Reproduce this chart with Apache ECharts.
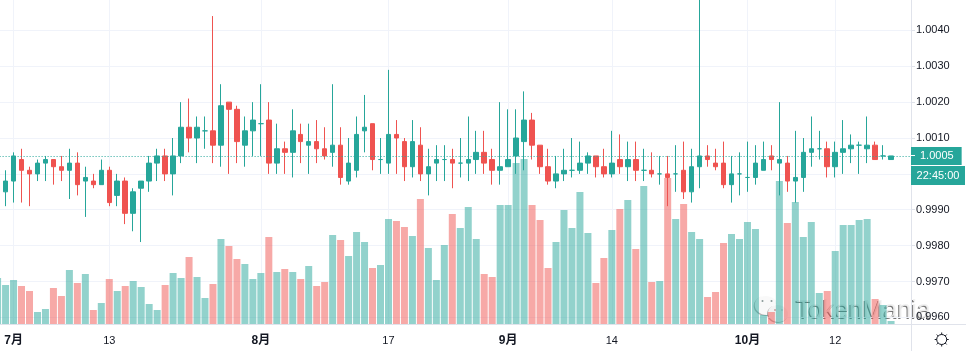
<!DOCTYPE html>
<html>
<head>
<meta charset="utf-8" />
<title>TokenMania</title>
<script src="https://cdn.jsdelivr.net/npm/echarts@6/dist/echarts.min.js"></script>
<style>html,body{margin:0;padding:0;background:#fff}</style>
</head>
<body>
<div id="main" style="width:966px;height:351px;"></div>
<script type="text/javascript">
// first slot only has a volume bar, its candle is off the left edge
var openPrices = [null,
 0.9995,0.9998,1.0004,1.0001,1.0000,1.0003,1.0004,1.0002,1.0001,1.0003,0.9998,0.9998,0.9997,1.0001,0.9994,0.9998,
 0.9989,0.9996,0.9998,1.0003,1.0005,1.0000,1.0005,1.0013,1.0010,1.0012,1.0012,1.0008,1.0020,1.0018,1.0008,1.0012,
 1.0014,1.0015,1.0003,1.0007,1.0006,1.0011,1.0008,1.0009,1.0007,1.0006,1.0008,0.9998,1.0001,1.0012,1.0014,1.0004,
 1.0003,1.0011,1.0009,1.0002,1.0008,1.0000,1.0003,1.0004,1.0004,1.0003,1.0003,1.0004,1.0006,1.0004,1.0001,1.0002,
 1.0005,1.0009,1.0015,1.0008,1.0002,0.9998,1.0000,1.0001,1.0001,1.0003,1.0005,1.0002,1.0000,1.0004,1.0002,1.0004,
 1.0001,1.0001,1.0000,1.0000,1.0000,1.0001,0.9995,1.0002,1.0005,1.0003,1.0003,0.9997,1.0000,0.9999,0.9999,1.0001,
 1.0005,1.0003,1.0003,0.9998,0.9999,1.0006,1.0007,1.0007,1.0002,1.0006,1.0007,1.0008,1.0007,1.0008,1.0005,1.0004];
var closePrices = [null,
 0.9998,1.0005,1.0001,1.0000,1.0003,1.0004,1.0002,1.0001,1.0003,0.9997,0.9999,0.9997,1.0001,0.9992,0.9998,0.9989,
 0.9995,0.9998,1.0003,1.0005,1.0000,1.0005,1.0013,1.0010,1.0013,1.0012,1.0008,1.0019,1.0018,1.0009,1.0012,1.0015,
 1.0014,1.0003,1.0007,1.0006,1.0012,1.0009,1.0009,1.0007,1.0005,1.0008,0.9999,1.0003,1.0011,1.0013,1.0004,1.0004,
 1.0011,1.0010,1.0002,1.0009,1.0000,1.0002,1.0004,1.0004,1.0003,1.0003,1.0004,1.0006,1.0003,1.0001,1.0002,1.0004,
 1.0010,1.0015,1.0008,1.0002,0.9998,1.0000,1.0001,1.0001,1.0003,1.0005,1.0002,1.0000,1.0003,1.0002,1.0004,1.0001,
 1.0001,1.0000,1.0000,0.9999,1.0000,0.9995,1.0002,1.0005,1.0004,1.0002,0.9997,1.0000,1.0000,0.9999,1.0003,1.0004,
 1.0004,1.0004,0.9998,0.9999,1.0006,1.0007,1.0007,1.0002,1.0006,1.0007,1.0008,1.0008,1.0008,1.0004,1.0005,1.0005];
var lowPrices = [null,
 0.9991,0.9992,0.9992,0.9991,0.9998,0.9998,0.9997,0.9998,0.9993,0.9994,0.9988,0.9996,0.9997,0.9991,0.9991,0.9986,
 0.9984,0.9981,0.9995,0.9998,0.9998,0.9994,1.0003,1.0006,1.0003,1.0007,1.0003,1.0002,1.0000,1.0003,1.0002,1.0005,
 1.0005,1.0000,1.0000,1.0000,0.9999,1.0003,1.0000,1.0003,1.0004,1.0002,0.9997,0.9997,0.9999,1.0006,1.0001,1.0000,
 1.0000,1.0000,0.9998,0.9999,0.9998,0.9994,0.9998,0.9998,0.9996,0.9999,0.9998,1.0000,1.0000,0.9997,0.9997,1.0002,
 1.0000,1.0001,1.0004,1.0000,0.9997,0.9996,0.9998,0.9999,1.0000,1.0000,0.9999,0.9999,0.9999,1.0000,0.9998,0.9998,
 0.9998,0.9999,0.9997,0.9991,0.9995,0.9993,0.9992,0.9996,1.0002,1.0001,0.9996,0.9992,0.9994,0.9995,0.9997,1.0001,
 1.0001,0.9994,0.9995,0.9992,0.9995,1.0002,1.0004,0.9999,0.9999,1.0000,1.0003,1.0000,1.0003,1.0004,1.0004,1.0004];
var highPrices = [null,
 1.0001,1.0006,1.0007,1.0002,1.0004,1.0005,1.0004,1.0005,1.0007,1.0006,1.0002,1.0000,1.0004,1.0002,1.0000,0.9999,
 0.9996,0.9998,1.0005,1.0007,1.0007,1.0010,1.0020,1.0021,1.0016,1.0016,1.0044,1.0025,1.0020,1.0019,1.0016,1.0020,
 1.0025,1.0020,1.0014,1.0009,1.0018,1.0014,1.0014,1.0015,1.0013,1.0025,1.0013,1.0010,1.0016,1.0022,1.0014,1.0010,
 1.0029,1.0015,1.0010,1.0015,1.0013,1.0007,1.0008,1.0008,1.0007,1.0010,1.0016,1.0012,1.0012,1.0007,1.0020,1.0018,
 1.0018,1.0023,1.0017,1.0008,1.0007,1.0005,1.0007,1.0010,1.0009,1.0006,1.0005,1.0007,1.0012,1.0011,1.0009,1.0009,
 1.0007,1.0006,1.0005,1.0005,1.0008,1.0009,1.0007,1.0050,1.0008,1.0007,1.0009,1.0005,1.0006,1.0009,1.0008,1.0009,
 1.0008,1.0020,1.0005,1.0012,1.0010,1.0016,1.0012,1.0009,1.0009,1.0015,1.0011,1.0009,1.0016,1.0009,1.0008,1.0005];
// volume read as bar height, no scale on the picture
var volumes = [138,117,132,114,99,36,45,108,84,162,123,150,42,63,135,99,114,129,111,60,42,117,153,138,201,141,78,120,
 255,234,195,180,135,153,261,156,165,156,135,174,114,126,267,252,204,276,246,168,177,315,309,291,264,375,228,132,237,
 330,288,351,255,150,141,357,357,483,495,357,312,168,246,342,288,396,273,123,198,282,345,372,225,414,126,129,438,315,
 360,276,255,81,96,243,270,255,306,285,27,36,429,303,366,261,306,93,99,219,297,297,312,315,75,57,9];
var lastPrice = 1.0005;
var countdown = '22:45:00';
var tickLabels = {'2020-07-01':'7月','2020-07-13':'13','2020-08-01':'8月','2020-08-17':'17',
 '2020-09-01':'9月','2020-09-14':'14','2020-10-01':'10月','2020-10-12':'12'};

var categories = [];
for (var n = 0; n < 115; n++) {
	categories.push(new Date(Date.UTC(2020, 5, 29 + n)).toISOString().slice(0, 10));
}

var UP = '#26a69a', DOWN = '#ef5350', GRID = '#f0f3fa', AXIS = '#e0e3eb', TEXT = '#131722';
var FONT = '"Liberation Sans", "Noto Sans CJK SC", sans-serif';

var candles = openPrices.map(function (o, i) {
	return [o, closePrices[i], lowPrices[i], highPrices[i]];
});
var volumeBars = volumes.map(function (v, i) {
	var up = closePrices[i] >= openPrices[i];
	return {value: v, itemStyle: {color: up ? 'rgba(38,166,154,0.5)' : 'rgba(239,83,80,0.5)'}};
});
function isLabelled(i, name) { return tickLabels[name] !== undefined; }

var plotLeft = -6.4, plotWidth = 917.4;

// gear icon spokes
var gearParts = [{type:'circle', shape:{cx:941.7, cy:339.5, r:5}, style:{fill:'#fff', stroke:TEXT, lineWidth:1}, silent:true}];
for (var a = 0; a < 8; a++) {
	var ang = a * Math.PI / 4;
	gearParts.push({type:'line', silent:true, style:{stroke:TEXT, lineWidth:1},
		shape:{x1:941.7+5*Math.cos(ang), y1:339.5+5*Math.sin(ang), x2:941.7+7*Math.cos(ang), y2:339.5+7*Math.sin(ang)}});
}

var myChart = echarts.init(document.getElementById('main'));
myChart.setOption({
	animation: false,
	backgroundColor: '#fff',
	grid: [
		{left: plotLeft, width: plotWidth, top: -5.47, height: 358.7, outerBoundsMode: 'none'},
		{left: plotLeft, width: plotWidth, top: 0, height: 324, outerBoundsMode: 'none'}
	],
	xAxis: [
		{type:'category', gridIndex:0, data:categories, show:false},
		{type:'category', gridIndex:1, data:categories,
			axisLine:{lineStyle:{color:AXIS}},
			axisTick:{interval:isLabelled, alignWithLabel:true, length:4, lineStyle:{color:AXIS}},
			splitLine:{show:true, interval:isLabelled, alignWithLabel:true, lineStyle:{color:GRID}},
			axisLabel:{interval:isLabelled, margin:11, hideOverlap:false,
				formatter:function (name) {
					var t = tickLabels[name];
					return t.indexOf('月') > 0 ? '{m|' + t + '}' : '{d|' + t + '}';
				},
				rich:{
					m:{fontFamily:FONT, fontSize:12, fontWeight:'bold', color:TEXT},
					d:{fontFamily:FONT, fontSize:11, color:TEXT}
				}
			}
		}
	],
	yAxis: [
		{type:'value', gridIndex:0, position:'right', min:0.995, max:1.005, interval:0.001, scale:true,
			axisLine:{show:true, lineStyle:{color:AXIS}},
			axisTick:{show:true, length:4, lineStyle:{color:AXIS}},
			splitLine:{show:true, lineStyle:{color:GRID}},
			axisLabel:{margin:5, color:TEXT, fontFamily:FONT, fontSize:11, showMinLabel:false, showMaxLabel:false,
				formatter:function (v) { return v.toFixed(4); }}
		},
		{type:'value', gridIndex:1, min:0, max:972, show:false}
	],
	series: [
		{type:'bar', name:'volume', xAxisIndex:1, yAxisIndex:1, data:volumeBars, barWidth:7, z:2},
		{type:'candlestick', name:'price', xAxisIndex:0, yAxisIndex:0, data:candles, barWidth:5, z:3,
			itemStyle:{color:UP, color0:DOWN, borderColor:UP, borderColor0:DOWN, borderColorDoji:UP, borderWidth:1},
			markLine:{
				symbol:'none', silent:true, animation:false, precision:4,
				lineStyle:{color:UP, type:[1,2], width:1},
				label:{position:'end', distance:0, color:'#fff', fontFamily:FONT, fontSize:11,
					backgroundColor:UP, padding:[4,8,3,9],
					formatter:function () { return lastPrice.toFixed(4); }},
				emphasis:{disabled:true},
				data:[{yAxis:lastPrice}]
			}
		}
	],
	graphic: [
		{type:'line', silent:true, shape:{x1:911, y1:324.5, x2:966, y2:324.5}, style:{stroke:AXIS, lineWidth:1}},
		{type:'line', silent:true, z:60, shape:{x1:911, y1:155.5, x2:915, y2:155.5}, style:{stroke:'#fff', lineWidth:1}},
		{type:'rect', silent:true, z:60, shape:{x:911, y:166, width:54, height:19}, style:{fill:UP}},
		{type:'text', silent:true, z:61, x:938, y:175.5, style:{text:countdown, fill:'#fff', align:'center', verticalAlign:'middle', font:'11px '+FONT}},
		{type:'group', silent:true, children:gearParts},
		// watermark, darker copy underneath works as the shadow
		{type:'group', silent:true, z:50, children:[
			{type:'ellipse', shape:{cx:765.7, cy:306, rx:12, ry:10}, style:{fill:'rgba(80,80,80,0.45)'}},
			{type:'ellipse', shape:{cx:766.7, cy:305, rx:12, ry:10}, style:{fill:'rgba(255,255,255,0.92)'}},
			{type:'ellipse', shape:{cx:777.5, cy:314, rx:10.5, ry:9}, style:{fill:'rgba(80,80,80,0.45)'}},
			{type:'ellipse', shape:{cx:778.5, cy:313, rx:10.5, ry:9}, style:{fill:'rgba(255,255,255,0.85)'}},
			{type:'circle', shape:{cx:762.5, cy:301, r:1}, style:{fill:'#8a9a98'}},
			{type:'circle', shape:{cx:771.5, cy:301, r:1}, style:{fill:'#8a9a98'}},
			{type:'circle', shape:{cx:775, cy:310, r:1}, style:{fill:'#c9a0a0'}},
			{type:'circle', shape:{cx:782, cy:310, r:1}, style:{fill:'#c9d0d0'}},
			{type:'text', x:795, y:312, style:{text:'TokenMania', fill:'rgba(70,70,70,0.75)', verticalAlign:'middle', font:'25px "Liberation Sans", sans-serif'}},
			{type:'text', x:796, y:311, style:{text:'TokenMania', fill:'rgba(240,240,240,0.92)', verticalAlign:'middle', font:'25px "Liberation Sans", sans-serif'}}
		]}
	]
});
</script>
</body>
</html>
